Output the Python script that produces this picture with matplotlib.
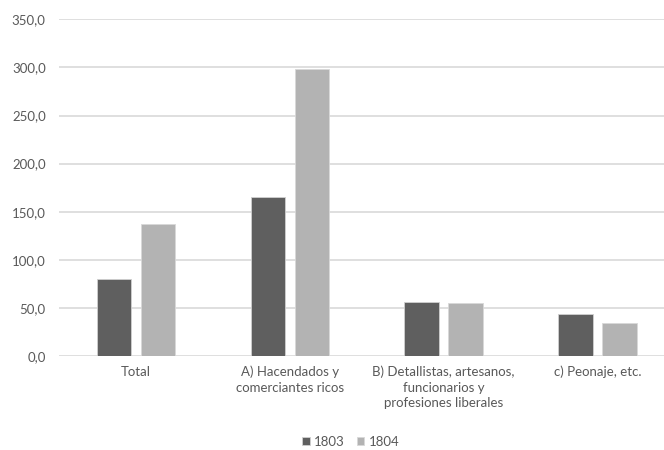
import numpy as np
import matplotlib
matplotlib.use("Agg")
import matplotlib.pyplot as plt

categories = [
    "Total",
    "A) Hacendados y\ncomerciantes ricos",
    "B) Detallistas, artesanos,\nfuncionarios y\nprofesiones liberales",
    "c) Peonaje, etc.",
]
series_names = ["1803", "1804"]
values_1803 = [80.4, 165.1, 55.9, 43.7]
values_1804 = [137.4, 298.3, 54.8, 34.0]
y_ticks = [0, 50, 100, 150, 200, 250, 300, 350]

plt.rcParams["font.family"] = ["Lato", "DejaVu Sans"]
text_color = "#595959"

fig = plt.figure(figsize=(6.64, 4.5), dpi=100)
ax = fig.add_axes([0.0887, 0.209, 0.927, 0.748])

x = np.arange(len(categories))
w = 0.223
ax.bar(x - 0.143, values_1803, w, color="#5f5f5f", edgecolor="#d0d0d0",
       linewidth=0.6, label=series_names[0], zorder=3)
ax.bar(x + 0.143, values_1804, w, color="#b3b3b3", edgecolor="#d8d8d8",
       linewidth=0.6, label=series_names[1], zorder=3)

ax.set_xlim(-0.5, len(categories) - 0.5)
ax.set_ylim(0, 350)
ax.set_yticks(y_ticks)
ax.set_yticklabels([f"{v:.1f}".replace(".", ",") for v in y_ticks])
ax.set_xticks(x)
ax.set_xticklabels(categories, linespacing=1.35)

ax.grid(axis="y", color="#d9d9d9", linewidth=1.2, zorder=0)
for s in ax.spines.values():
    s.set_visible(False)
ax.tick_params(length=0, colors=text_color, labelsize=9.5)
ax.tick_params(axis="y", pad=9.5)
ax.tick_params(axis="x", pad=7)

leg = fig.legend(loc="center", bbox_to_anchor=(0.528, 0.018), ncol=2,
                 frameon=False, fontsize=9.5, handlelength=0.6, handleheight=0.6,
                 handletextpad=0.3, columnspacing=0.9)
for t in leg.get_texts():
    t.set_color(text_color)

fig.savefig("out.png", dpi=100)
